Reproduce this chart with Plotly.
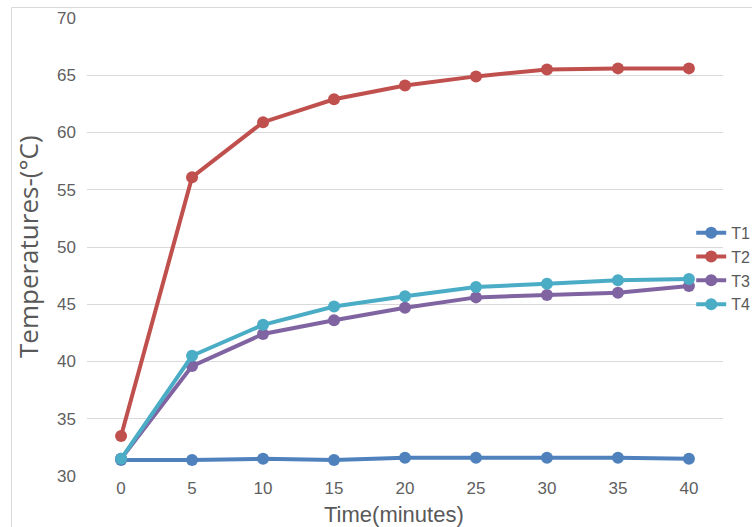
import plotly.graph_objects as go

time_min = [0, 5, 10, 15, 20, 25, 30, 35, 40]
T1 = [31.4, 31.4, 31.5, 31.4, 31.6, 31.6, 31.6, 31.6, 31.5]
T2 = [33.5, 56.1, 60.9, 62.9, 64.1, 64.9, 65.5, 65.6, 65.6]
T3 = [31.5, 39.6, 42.4, 43.6, 44.7, 45.6, 45.8, 46.0, 46.6]
T4 = [31.5, 40.5, 43.2, 44.8, 45.7, 46.5, 46.8, 47.1, 47.2]
series_names = ["T1", "T2", "T3", "T4"]
series_colors = ["#4F81BD", "#C0504D", "#8064A2", "#4BACC6"]
y_ticks = [30, 35, 40, 45, 50, 55, 60, 65, 70]

fig = go.Figure()
for name, vals, col in zip(series_names, [T1, T2, T3, T4], series_colors):
    fig.add_trace(go.Scatter(
        x=time_min, y=vals, name=name, mode="lines+markers",
        line=dict(color=col, width=4),
        marker=dict(color=col, size=12),
    ))

tick_font = dict(family="Liberation Sans, sans-serif", size=17, color="#5F5F5F")

fig.update_layout(
    width=752, height=527,
    margin=dict(l=87, r=29, t=18, b=51, autoexpand=False),
    paper_bgcolor="white", plot_bgcolor="white",
    showlegend=True,
    legend=dict(x=0.950, y=0.568, xanchor="left", yanchor="top",
                bgcolor="rgba(0,0,0,0)", itemwidth=30,
                font=dict(family="Liberation Sans, sans-serif", size=16, color="#595959"),
                tracegroupgap=0),
    xaxis=dict(range=[-2.4, 42.4], tickvals=time_min, showgrid=False, zeroline=False,
               showline=False, ticks="", tickfont=tick_font),
    yaxis=dict(range=[30, 70], tickvals=y_ticks, showgrid=True, gridcolor="#D9D9D9",
               gridwidth=1, zeroline=False, showline=False, ticks="", tickfont=tick_font,
               ticklabelstandoff=10),
    annotations=[
        dict(text="Time(minutes)", xref="paper", yref="paper", x=0.483, y=0, yshift=-38,
             xanchor="center", yanchor="middle", showarrow=False,
             font=dict(family="Liberation Sans, sans-serif", size=22, color="#595959")),
        dict(text="Temperatures-(°C)", xref="paper", yref="paper", x=0, xshift=-59, y=0.50,
             xanchor="center", yanchor="middle", showarrow=False, textangle=-90,
             font=dict(family="Open Sans, sans-serif", size=26, color="#595959")),
    ],
    shapes=[dict(type="rect", xref="paper", yref="paper", x0=-0.1187, x1=1.2, y0=-0.3, y1=1.0229,
                 line=dict(color="#D9D9D9", width=1), fillcolor="rgba(0,0,0,0)", layer="below")],
)

fig.write_html("out.html", config={"displayModeBar": False},
               post_script="document.body.style.margin='0';")
